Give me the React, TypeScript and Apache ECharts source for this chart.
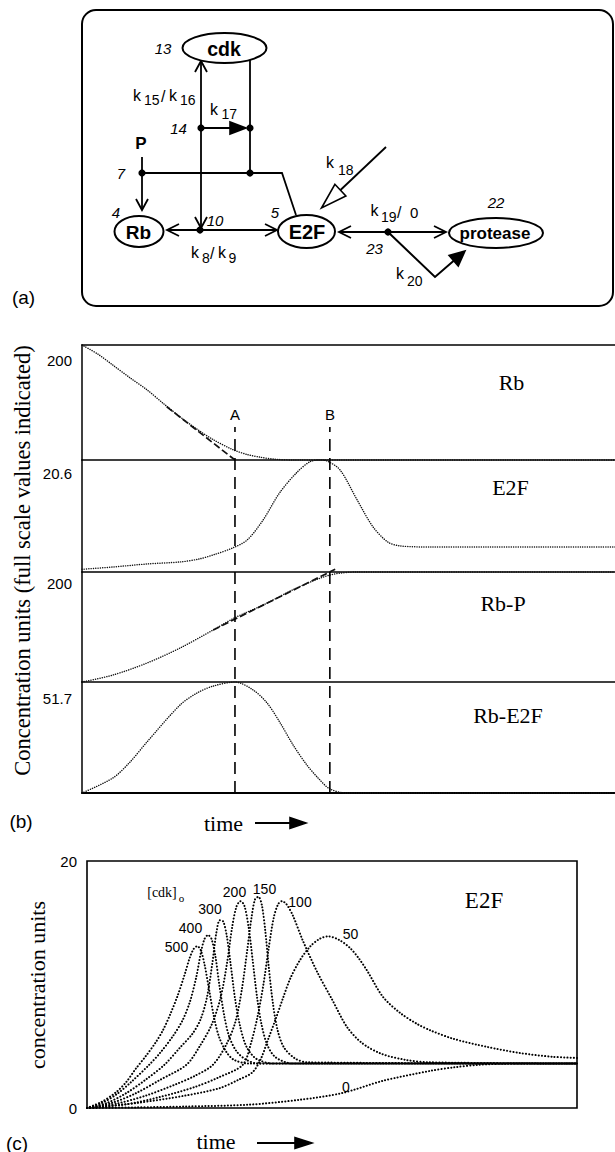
import React, { useEffect, useRef } from "react";
import * as echarts from "echarts";

// ---------- data: panel (b) (time 0..100, values in concentration units) ----------
const bFullScale = [200, 20.6, 200, 51.7];
const bScaleLabels = ["200", "20.6", "200", "51.7"];
const bSpecies = ["Rb", "E2F", "Rb-P", "Rb-E2F"];
const rbCurve = [[0, 200], [3, 184], [5.8, 165], [9, 143], [12.2, 122], [15.3, 98], [18.4, 75], [21.5, 54], [24.6, 35.5], [28.3, 18], [31, 9.5], [33.4, 5], [36, 1.5], [40, 0], [100, 0]];
const rbTangent = [[15.9, 92.6], [28.7, 0]];
const e2fCurve = [[0, 0.5], [5.8, 0.92], [12.2, 1.48], [18.4, 1.85], [22, 2.4], [24.6, 3.14], [28.3, 4.43], [31, 5.9], [34, 9.6], [37.1, 14.6], [40.3, 18.3], [42.8, 20.3], [44.7, 20.6], [46, 20.4], [48.4, 18.8], [51.6, 13.3], [54.6, 8.3], [57.4, 5.5], [59.7, 4.8], [65.5, 4.6], [100, 4.6]];
const rbpCurve = [[0, 0], [5.8, 12.7], [12.2, 34.5], [18.4, 61.8], [24.6, 94.5], [28.7, 117], [34, 140], [40.3, 171], [46.5, 194.5], [51.6, 200], [100, 200]];
const rbpTangent = [[24.6, 94.5], [47.5, 205]];
const rbe2fCurve = [[0, 0], [5.8, 7], [9, 14.4], [12.2, 23.8], [18.4, 41], [21.6, 46.6], [24.6, 49.8], [28.7, 51.7], [32.1, 48], [34.7, 42], [37.1, 33], [39.6, 22.4], [42.2, 13], [44.3, 7], [46.5, 1.9], [49.7, 0], [100, 0]];
const markTimes = [28.7, 46.5];
const markNames = ["A", "B"];

// ---------- data: panel (c) E2F for several [cdk]0 ----------
const cdkLevels = ["500", "400", "300", "200", "150", "100", "50", "0"];
const e2f500 = [[0, 0], [3, 0.5], [6, 1.3], [8, 2.1], [10, 3.2], [12, 4.2], [14, 5.3], [15.5, 6.3], [17, 7.6], [18.5, 9.1], [20, 10.9], [21, 12.2], [21.8, 12.9], [22.5, 13.1], [23.2, 12.8], [24, 11.6], [25, 9.4], [26, 7.2], [27, 5.7], [28.5, 4.5], [30, 3.9], [33, 3.6], [100, 3.6]];
const e2f400 = [[0, 0], [3, 0.4], [6, 1.1], [9, 2.1], [12.7, 3.5], [15, 4.5], [17.5, 5.8], [19.5, 7.1], [21, 8.6], [22.3, 10.6], [23.3, 12.7], [24, 13.7], [24.7, 14.0], [25.4, 13.7], [26.2, 12.3], [27, 10.0], [28, 7.5], [29, 5.8], [30.5, 4.6], [32.5, 3.9], [35, 3.6], [100, 3.6]];
const e2f300 = [[0, 0], [4, 0.4], [8, 1.2], [12, 2.3], [15.8, 3.5], [19, 4.9], [21.5, 6.0], [23.2, 7.2], [24.5, 9.0], [25.6, 11.8], [26.4, 14.2], [27.1, 15.2], [27.8, 15.1], [28.5, 14.0], [29.3, 11.7], [30.2, 8.9], [31.2, 6.7], [32.5, 5.0], [34.5, 4.0], [38, 3.6], [100, 3.6]];
const e2f200 = [[0, 0], [5, 0.4], [10, 1.2], [15, 2.3], [20.3, 3.5], [23, 5.0], [25.5, 6.8], [27.3, 9.0], [28.6, 11.8], [29.6, 14.6], [30.5, 16.3], [31.3, 16.75], [32.1, 16.4], [33, 14.6], [33.8, 12.0], [34.7, 9.0], [35.6, 6.8], [36.8, 5.1], [38.5, 4.1], [42, 3.6], [100, 3.6]];
const e2f150 = [[0, 0], [6, 0.35], [12, 1.0], [18, 1.9], [22, 2.6], [25.7, 3.5], [28.5, 5.2], [30.3, 7.0], [31.6, 9.6], [32.7, 12.8], [33.6, 15.5], [34.3, 16.9], [35, 17.1], [35.7, 16.4], [36.4, 14.3], [37.1, 11.4], [37.9, 8.6], [38.9, 6.3], [40.2, 4.9], [42.5, 4.0], [45, 3.7], [100, 3.6]];
const e2f100 = [[0, 0], [8, 0.3], [15, 0.9], [22, 1.7], [27, 2.5], [31.8, 3.5], [33.5, 5.3], [34.8, 7.4], [36, 10.0], [37.1, 13.0], [38.1, 15.4], [39, 16.5], [39.8, 16.75], [40.7, 16.5], [42, 15.6], [44, 13.6], [47, 11.0], [50, 8.8], [53, 6.6], [56, 5.3], [60, 4.4], [65, 3.9], [70, 3.7], [100, 3.6]];
const e2f50 = [[0, 0], [10, 0.4], [20, 1.0], [27, 1.6], [31, 2.3], [33.8, 2.9], [35.5, 4.0], [37, 5.6], [38.5, 7.2], [40, 8.9], [41.5, 10.5], [43.5, 12.0], [45.6, 13.1], [47.5, 13.7], [49.2, 13.9], [51.5, 13.6], [53.7, 12.95], [55.5, 12.1], [57.2, 11.1], [60.4, 9.0], [63.9, 7.7], [67.4, 6.8], [70, 6.3], [74.8, 5.6], [81.6, 4.95], [88.4, 4.45], [95, 4.15], [100, 4.05]];
const e2f0 = [[0, 0], [10, 0.05], [20, 0.12], [33, 0.27], [43.5, 0.67], [52, 1.2], [60.4, 2.2], [70, 3.0], [75, 3.3], [80, 3.5], [87, 3.6], [100, 3.6]];
const cCurves = [e2f500, e2f400, e2f300, e2f200, e2f150, e2f100, e2f50, e2f0];
const cYTicks = [0, 20];

// ---------- styling / layout ----------
const SANS = "'Liberation Sans', Arial, Helvetica, sans-serif";
const SERIF = "'Liberation Serif', 'Times New Roman', Times, serif";
const INK = "#000";

function txt(text: string, x: number, y: number, o: any = {}) {
  const align = o.align || "center";
  return {
    type: "text",
    x,
    y,
    rotation: o.rot || 0,
    z: 20,
    style: {
      text,
      fontSize: o.size || 15,
      fontFamily: o.family || SANS,
      fontWeight: o.weight || "normal",
      fontStyle: o.fstyle || "normal",
      fill: INK,
      align,
      verticalAlign: "middle",
      textAlign: align,
      textVerticalAlign: "middle",
    },
  };
}
function ln(x1: number, y1: number, x2: number, y2: number, w = 1.8) {
  return { type: "line", z: 10, shape: { x1, y1, x2, y2 }, style: { stroke: INK, lineWidth: w } };
}
function pl(points: number[][], w = 1.8) {
  return { type: "polyline", z: 10, shape: { points }, style: { stroke: INK, lineWidth: w, fill: "none" } };
}
function dot(cx: number, cy: number) {
  return { type: "circle", z: 12, shape: { cx, cy, r: 3.6 }, style: { fill: INK } };
}
function ell(cx: number, cy: number, rx: number, ry: number) {
  return { type: "ellipse", z: 11, shape: { cx, cy, rx, ry }, style: { fill: "#fff", stroke: INK, lineWidth: 2 } };
}
function chevron(tx: number, ty: number, dx: number, dy: number, len = 11, hw = 6) {
  const L = Math.hypot(dx, dy);
  const ux = dx / L, uy = dy / L, nx = -uy, ny = ux;
  const bx = tx - ux * len, by = ty - uy * len;
  return pl([[bx + nx * hw, by + ny * hw], [tx, ty], [bx - nx * hw, by - ny * hw]], 1.8);
}
function tri(tx: number, ty: number, dx: number, dy: number, len: number, hw: number, filled: boolean) {
  const L = Math.hypot(dx, dy);
  const ux = dx / L, uy = dy / L, nx = -uy, ny = ux;
  const bx = tx - ux * len, by = ty - uy * len;
  return {
    type: "polygon",
    z: 12,
    shape: { points: [[tx, ty], [bx + nx * hw, by + ny * hw], [bx - nx * hw, by - ny * hw]] },
    style: { fill: filled ? INK : "#fff", stroke: INK, lineWidth: 1.6 },
  };
}
function kLabel(segs: any[]) {
  return segs.map((s) => txt(s[0], s[1], s[2], { size: s[3], align: "left" }));
}

function diagram() {
  const els: any[] = [];
  els.push({ type: "rect", z: 5, shape: { x: 82, y: 10, width: 531, height: 296, r: 14 }, style: { fill: "none", stroke: INK, lineWidth: 2 } });
  els.push(ln(201, 61, 201, 229));
  els.push(chevron(201, 61, 0, -1));
  els.push(chevron(201, 228, 0, 1));
  els.push(ln(250, 60, 250, 173));
  els.push(ln(201, 128, 232, 128, 2));
  els.push(tri(246, 128, 1, 0, 16, 6, true));
  els.push(dot(201, 128));
  els.push(dot(250, 128));
  els.push(ln(142, 157, 142, 210));
  els.push(chevron(142, 210, 0, 1));
  els.push(pl([[142, 173], [282, 173], [296, 215]]));
  els.push(dot(142, 173));
  els.push(dot(250, 173));
  els.push(ln(167, 230, 277, 230));
  els.push(chevron(167, 230, -1, 0, 12, 6));
  els.push(chevron(277, 230, 1, 0, 12, 6));
  els.push(dot(200, 230));
  els.push(ln(339, 232, 446, 232, 2));
  els.push(chevron(339, 232, -1, 0, 12, 6));
  els.push(chevron(446, 232, 1, 0, 12, 6));
  els.push(ln(386, 147, 340.5, 190));
  els.push(tri(321.5, 208, -0.726, 0.687, 26, 8, false));
  els.push(pl([[388, 232], [435, 277], [454, 260.5]], 2));
  els.push(tri(465, 251, 0.756, -0.655, 15, 7, true));
  els.push(dot(388, 232));
  els.push(ell(224.5, 48, 42, 15));
  els.push(ell(139, 231.5, 24.5, 15.5));
  els.push(ell(306.5, 231.5, 28.5, 16.5));
  els.push(ell(496, 233, 47, 15));
  els.push(txt("cdk", 224, 48.5, { size: 19.5, weight: "bold" }));
  els.push(txt("Rb", 138.5, 232, { size: 19, weight: "bold" }));
  els.push(txt("E2F", 307, 232, { size: 20, weight: "bold" }));
  els.push(txt("protease", 495, 233, { size: 17, weight: "bold" }));
  els.push(txt("P", 141, 143, { size: 17, weight: "bold" }));
  const nums: any[] = [["13", 163, 48], ["14", 178.5, 128], ["7", 121, 173], ["4", 116, 212], ["10", 215, 220], ["5", 275, 212], ["23", 374.5, 248], ["22", 496, 202.5]];
  nums.forEach((n) => els.push(txt(n[0], n[1], n[2], { size: 15, fstyle: "italic" })));
  els.push(...kLabel([["k", 133, 95, 16], ["15", 144, 100, 14], ["/", 161, 96, 16], ["k", 169, 95, 16], ["16", 180, 100, 14]]));
  els.push(...kLabel([["k", 210, 109, 16], ["17", 221.5, 114, 14]]));
  els.push(...kLabel([["k", 326, 162.5, 16], ["18", 338, 170, 14]]));
  els.push(...kLabel([["k", 191, 252.5, 16], ["8", 202, 258, 14], ["/", 210, 253, 16], ["k", 218, 252.5, 16], ["9", 228.6, 258, 14]]));
  els.push(...kLabel([["k", 370.5, 210.5, 16], ["19", 381, 217, 14], ["/", 397, 212, 16], ["0", 410, 212, 15]]));
  els.push(...kLabel([["k", 396, 273.5, 16], ["20", 407, 281, 14]]));
  els.push(txt("(a)", 23.5, 297, { size: 19 }));
  return els;
}

function texts() {
  const els: any[] = [];
  els.push(txt("Concentration units (full scale values indicated)", 22, 560.5, { size: 22.5, family: SERIF, rot: Math.PI / 2 }));
  const spPos = [[511.5, 382.5], [510.5, 487], [503, 603.3], [508, 715]];
  bSpecies.forEach((s, i) => els.push(txt(s, spPos[i][0], spPos[i][1], { size: 22, family: SERIF })));
  els.push(txt(markNames[0], 235, 414, { size: 15 }));
  els.push(txt(markNames[1], 330, 414, { size: 15 }));
  els.push(txt("(b)", 21, 821, { size: 19 }));
  els.push(txt("time", 223.5, 823, { size: 22, family: SERIF }));
  els.push(ln(255, 823, 292, 823, 1.8));
  els.push(tri(306, 823, 1, 0, 16, 5.5, true));
  els.push(txt("concentration units", 37, 985, { size: 22, family: SERIF, rot: Math.PI / 2 }));
  els.push(txt("E2F", 484, 900, { size: 23, family: SERIF }));
  els.push(txt("[cdk]", 162, 892, { size: 14, family: SERIF }));
  els.push(txt("o", 181.5, 897.5, { size: 11, family: SERIF }));
  const labPos = [[176.5, 947], [190.5, 928], [210, 909], [234.5, 892], [264.5, 888.5], [300, 901.5], [350.5, 934], [346, 1087]];
  cdkLevels.forEach((s, i) => els.push(txt(s, labPos[i][0], labPos[i][1], { size: 14 })));
  els.push(txt("(c)", 17, 1143, { size: 19 }));
  els.push(txt("time", 216, 1141, { size: 22, family: SERIF }));
  els.push(ln(257, 1143, 296, 1143, 1.8));
  els.push(tri(312, 1143, 1, 0, 17, 5.5, true));
  return els;
}

function buildOption() {
  const bTops = [345, 460, 572, 682];
  const bHeights = [115, 112, 110, 111];
  const labelPad = [7.5, 5.5, 3.5, 8.5];
  const grid: any[] = bTops.map((t, i) => ({ left: 82, right: 0, top: t, height: bHeights[i] }));
  grid.push({ left: 82, right: 0, top: 345, height: 448 });
  grid.push({ left: 87, right: 38, top: 861, height: 247, show: true, borderColor: INK, borderWidth: 1.6 });

  const hidden = { axisTick: { show: false }, axisLabel: { show: false }, splitLine: { show: false } };
  const xAxis: any[] = bTops.map((_, i) => ({
    type: "value", gridIndex: i, min: 0, max: 100, ...hidden,
    axisLine: { show: true, onZero: false, lineStyle: { color: INK, width: i === 3 ? 2.2 : 1.5 } },
  }));
  xAxis.push({ type: "value", gridIndex: 0, position: "top", min: 0, max: 100, ...hidden, axisLine: { show: true, onZero: false, lineStyle: { color: INK, width: 1.5 } } });
  xAxis.push({ type: "value", gridIndex: 4, min: 0, max: 100, show: false });
  xAxis.push({ type: "value", gridIndex: 5, min: 0, max: 100, ...hidden, axisLine: { show: false } });

  const yAxis: any[] = bFullScale.map((m, i) => ({
    type: "value", gridIndex: i, min: 0, max: m, interval: m,
    axisTick: { show: false }, splitLine: { show: false },
    axisLine: { show: true, lineStyle: { color: INK, width: 1.5 } },
    axisLabel: {
      color: INK, fontSize: 15, fontFamily: SANS, margin: 10, verticalAlign: "top", padding: [labelPad[i], 0, 0, 0],
      formatter: (v: number) => (Math.abs(v - m) < 1e-6 ? bScaleLabels[i] : ""),
    },
  }));
  yAxis.push({ type: "value", gridIndex: 4, min: 0, max: 1, show: false });
  yAxis.push({
    type: "value", gridIndex: 5, min: cYTicks[0], max: cYTicks[1], interval: cYTicks[1] - cYTicks[0],
    axisTick: { show: false }, splitLine: { show: false }, axisLine: { show: false },
    axisLabel: { color: INK, fontSize: 15, fontFamily: SANS, margin: 10, padding: [8, 0, 0, 0] },
  });

  const dotB = { color: "#111", width: 1.45, type: [0.1, 2.2], cap: "round" };
  const dotC = { color: "#000", width: 2.0, type: [0.1, 3.1], cap: "round" };
  const dashT = { color: "#111", width: 1.7, type: [7, 3] };
  const base = { type: "line", showSymbol: false, symbol: "none", silent: true, clip: false, z: 3 };
  const series: any[] = [
    { ...base, name: "Rb", xAxisIndex: 0, yAxisIndex: 0, data: rbCurve, smooth: 0.3, lineStyle: dotB },
    { ...base, name: "Rb tangent", xAxisIndex: 0, yAxisIndex: 0, data: rbTangent, lineStyle: dashT },
    { ...base, name: "E2F", xAxisIndex: 1, yAxisIndex: 1, data: e2fCurve, smooth: 0.3, lineStyle: dotB },
    { ...base, name: "Rb-P", xAxisIndex: 2, yAxisIndex: 2, data: rbpCurve, smooth: 0.3, lineStyle: dotB },
    { ...base, name: "Rb-P tangent", xAxisIndex: 2, yAxisIndex: 2, data: rbpTangent, lineStyle: dashT },
    { ...base, name: "Rb-E2F", xAxisIndex: 3, yAxisIndex: 3, data: rbe2fCurve, smooth: 0.3, lineStyle: dotB },
  ];
  markTimes.forEach((t, i) => {
    series.push({ ...base, name: markNames[i], xAxisIndex: 5, yAxisIndex: 4, data: [[t, 0], [t, 0.817]], lineStyle: { color: INK, width: 1.6, type: [12, 7] } });
  });
  cCurves.forEach((d, i) => {
    series.push({ ...base, name: "[cdk]0=" + cdkLevels[i], xAxisIndex: 6, yAxisIndex: 5, data: d, smooth: 0.3, lineStyle: dotC });
  });

  return {
    animation: false,
    backgroundColor: "#fff",
    grid,
    xAxis,
    yAxis,
    series,
    graphic: { elements: [...diagram(), ...texts()] },
  };
}

export default function App() {
  const ref = useRef<HTMLDivElement>(null);
  useEffect(() => {
    if (!ref.current) return;
    const chart = echarts.init(ref.current, undefined, { renderer: "svg" });
    chart.setOption(buildOption() as any);
    return () => chart.dispose();
  }, []);
  return (
    <div
      ref={ref}
      style={{ position: "fixed", left: 0, top: 0, width: 615, height: 1152, background: "#fff" }}
    />
  );
}
